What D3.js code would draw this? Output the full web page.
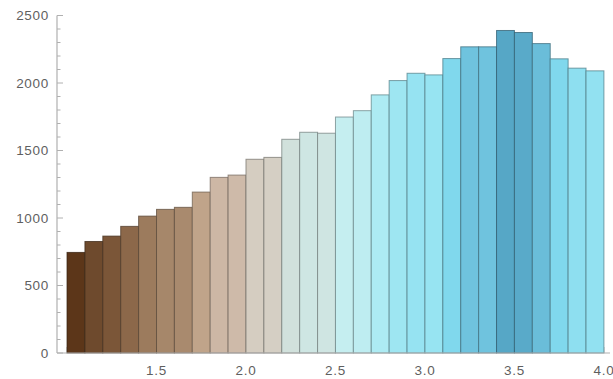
<!DOCTYPE html>
<html>
<head>
<meta charset="utf-8">
<script src="https://cdn.jsdelivr.net/npm/d3@7"></script>
<style>
  html, body { margin: 0; padding: 0; background: #fff; }
  svg { display: block; }
</style>
</head>
<body>
<svg id="chart" width="613" height="379"></svg>
<script>
// Histogram bins (width 0.1 from 1.0 to 4.0) and their counts
const binStarts = [1.0,1.1,1.2,1.3,1.4,1.5,1.6,1.7,1.8,1.9,2.0,2.1,2.2,2.3,2.4,2.5,2.6,2.7,2.8,2.9,3.0,3.1,3.2,3.3,3.4,3.5,3.6,3.7,3.8,3.9];
const binWidth = 0.1;
const counts = [745,826,866,938,1014,1064,1079,1192,1301,1318,1435,1449,1583,1635,1628,1748,1795,1912,2018,2072,2060,2181,2268,2268,2389,2374,2292,2179,2110,2090];
const xTickValues = [1.5,2.0,2.5,3.0,3.5,4.0];
const yTickValues = [0,500,1000,1500,2000,2500];

// Height-based colour gradient (brown -> pale -> cyan -> deep blue)
const colorStopsValue = [745,826,866,938,1014,1079,1192,1310,1440,1600,1750,1912,2070,2180,2268,2389];
const colorStopsColor = ["#5c3619","#6e4a2d","#7b5638","#8c684a","#9c7b5d","#a98a6e","#c0a48a","#ceb9a7","#d5cec2","#d1e3df","#c5eef0","#adebf3","#96e3f2","#80d8ed","#6fc3de","#56a7c6"];

const svg = d3.select("#chart");
const x = d3.scaleLinear().domain([0.944, 4.034]).range([57, 610]);
const y = d3.scaleLinear().domain([0, 2500]).range([353, 15.5]);
const color = d3.scaleLinear().domain(colorStopsValue).range(colorStopsColor).interpolate(d3.interpolateRgb).clamp(true);

const axisColor = "#b0b0b0";
const textColor = "#5f5f5f";
const font = "'Liberation Sans', Arial, sans-serif";
const fontSize = 13.5;
const spacing = "0.7px";

// minor/major ticks on x (pointing up), drawn below bars
const gx = svg.append("g");
const xMinor = d3.range(10, 41).map(d => d / 10);
gx.selectAll("line.minor").data(xMinor).join("line")
  .attr("x1", d => x(d)).attr("x2", d => x(d))
  .attr("y1", y(0)).attr("y2", d => y(0) - (Math.abs(d*2 - Math.round(d*2)) < 1e-6 ? 6 : 3.5))
  .attr("stroke", axisColor).attr("stroke-width", 1);

// Bars
svg.append("g").selectAll("rect").data(binStarts).join("rect")
  .attr("x", (d) => x(d))
  .attr("width", (d) => x(d + binWidth) - x(d))
  .attr("y", (d, i) => y(counts[i]))
  .attr("height", (d, i) => y(0) - y(counts[i]))
  .attr("fill", (d, i) => color(counts[i]))
  .attr("stroke", (d, i) => d3.color(color(counts[i])).darker(1.6))
  .attr("stroke-opacity", 0.75)
  .attr("stroke-width", 1);

// x axis line
svg.append("line")
  .attr("x1", 57).attr("x2", 610).attr("y1", y(0)).attr("y2", y(0))
  .attr("stroke", axisColor).attr("stroke-width", 1.2);

// x tick labels
svg.append("g").selectAll("text").data(xTickValues).join("text")
  .attr("x", d => x(d)).attr("y", 375)
  .attr("text-anchor", "middle")
  .attr("font-family", font).attr("font-size", fontSize).attr("fill", textColor)
  .attr("letter-spacing", spacing)
  .text(d => d3.format(".1f")(d));

// y axis
const gy = svg.append("g");
gy.append("line")
  .attr("x1", 57).attr("x2", 57).attr("y1", y(2500)).attr("y2", y(0))
  .attr("stroke", axisColor).attr("stroke-width", 1.2);
const yMinor = d3.range(0, 2501, 100);
gy.selectAll("line.t").data(yMinor).join("line")
  .attr("x1", 57).attr("x2", d => 57 + (d % 500 === 0 ? 6 : 3.5))
  .attr("y1", d => y(d)).attr("y2", d => y(d))
  .attr("stroke", axisColor).attr("stroke-width", 1);
gy.selectAll("text").data(yTickValues).join("text")
  .attr("x", 49).attr("y", d => y(d))
  .attr("dy", "0.36em")
  .attr("text-anchor", "end")
  .attr("font-family", font).attr("font-size", fontSize).attr("fill", textColor)
  .attr("letter-spacing", spacing)
  .text(d => d);
</script>
</body>
</html>
